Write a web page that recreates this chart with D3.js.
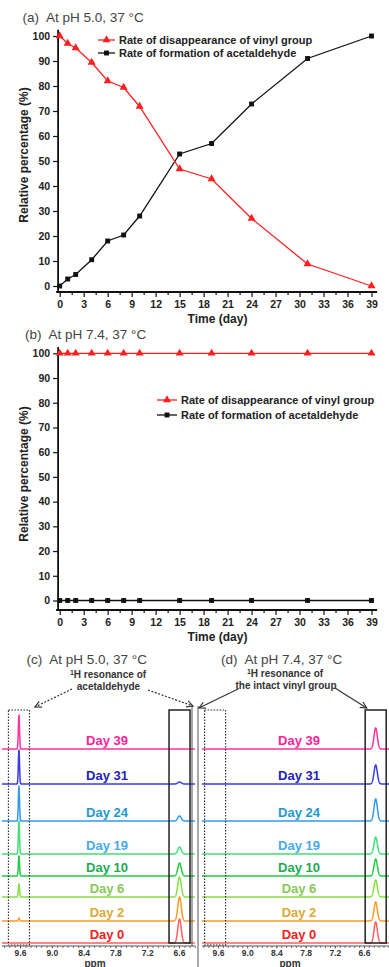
<!DOCTYPE html>
<html>
<head>
<meta charset="utf-8">
<script src="https://cdn.jsdelivr.net/npm/d3@7"></script>
<style>
  html, body { margin: 0; padding: 0; background: #fff; }
  svg { display: block; font-family: Arial, "Liberation Sans", sans-serif; }
  .title { font-size: 13.5px; fill: #444; }
  .axis text { font-size: 10.5px; font-weight: bold; fill: #222; font-family: Arial, "Liberation Sans", sans-serif; }
  .axis line { stroke: #111; stroke-width: 1.2; }
  .axis-label { font-size: 12px; font-weight: bold; fill: #222; }
  .legend text { font-size: 11px; font-weight: bold; fill: #222; }
  .nmr-axis text { font-size: 8.5px; font-weight: bold; fill: #333; font-family: Arial, "Liberation Sans", sans-serif; }
  .nmr-axis line { stroke: #555; stroke-width: 0.8; }
  .note { font-size: 10px; font-weight: bold; fill: #333; }
  .day-label { font-size: 13px; font-weight: bold; }
</style>
</head>
<body>
<svg id="fig" width="389" height="967"></svg>
<script>
// kinetics data (a) and (b)
const days = [0, 1, 2, 4, 6, 8, 10, 15, 19, 24, 31, 39];
const vinylPh50 = [100, 97, 95.2, 89.4, 82, 79.4, 71.8, 46.8, 42.8, 27, 8.8, 0];
const acetPh50 = [0, 2.8, 4.6, 10.5, 18, 20.4, 28, 52.8, 57, 72.8, 91, 100];
const vinylPh74 = [100, 100, 100, 100, 100, 100, 100, 100, 100, 100, 100, 100];
const acetPh74 = [0, 0, 0, 0, 0, 0, 0, 0, 0, 0, 0, 0];
const dayTicks = [0, 3, 6, 9, 12, 15, 18, 21, 24, 27, 30, 33, 36, 39];
const pctTicks = [0, 10, 20, 30, 40, 50, 60, 70, 80, 90, 100];
const seriesNames = ['Rate of disappearance of vinyl group', 'Rate of formation of acetaldehyde'];

// 1H NMR spectra, panels (c) and (d); peak heights in intensity units
const nmrDays = [39, 31, 24, 19, 10, 6, 2, 0];
const traceOffset = [194, 159, 122, 89, 67, 46, 22, 0];
const acetPeakC = [34, 34, 35, 33, 20, 13, 3, 0];
const vinylPeakC = [0, 2, 5, 7, 13, 20, 24, 24];
const acetPeakD = [0, 0, 0, 0, 0, 0, 0, 0];
const vinylPeakD = [21, 19, 22, 17, 17, 17, 19, 21];
const ppmTicks = [9.6, 9.0, 8.4, 7.8, 7.2, 6.6];

const traceColors = ['#ff3399', '#3a3aee', '#3399ee', '#44dd77', '#22cc44', '#88e044', '#ff9a22', '#ff6060'];
const labelColors = ['#ff2299', '#2222bb', '#2299cc', '#44aaee', '#22aa55', '#88c855', '#ddaa33', '#ee2222'];

const RED = '#ff1f1f';
const BLACK = '#111';

const svg = d3.select('#fig');

const defs = svg.append('defs');
defs.append('marker').attr('id', 'head').attr('viewBox', '-8 -5 10 10')
  .attr('refX', 0).attr('refY', 0).attr('markerWidth', 9).attr('markerHeight', 9)
  .attr('markerUnits', 'userSpaceOnUse').attr('orient', 'auto')
  .append('path').attr('d', 'M-7,-3.5 L0,0 L-7,3.5').attr('fill', 'none')
  .attr('stroke', '#333').attr('stroke-width', 1.3);

// panel title: letter, then a wider gap before the condition
function title(g, x, y, letter, text) {
  const t = g.append('text').attr('class', 'title').attr('x', x).attr('y', y);
  t.append('tspan').text(letter);
  t.append('tspan').attr('dx', 7).text(text);
}

function kineticsPanel(cfg) {
  const x = d3.scaleLinear().domain([0, 39]).range([59.7, 371.5]);
  const y = d3.scaleLinear().domain([0, 100]).range([cfg.y0, cfg.y100]);
  const g = svg.append('g');

  title(g, cfg.titleX, cfg.titleY, cfg.letter, cfg.title);

  const xa = g.append('g').attr('class', 'axis').attr('transform', `translate(0,${cfg.axisY})`)
    .call(d3.axisBottom(x).tickValues(dayTicks).tickSize(5).tickSizeOuter(0).tickPadding(4));
  xa.select('.domain').remove();
  const xm = g.append('g').attr('class', 'axis').attr('transform', `translate(0,${cfg.axisY})`)
    .call(d3.axisBottom(x).tickValues(dayTicks.slice(0, -1).map(d => d + 1.5)).tickSize(3).tickFormat(''));
  xm.select('.domain').remove();

  const ya = g.append('g').attr('class', 'axis').attr('transform', `translate(${x(-0.2)},0)`)
    .call(d3.axisLeft(y).tickValues(pctTicks).tickSize(5).tickSizeOuter(0).tickPadding(3));
  ya.select('.domain').remove();

  g.append('line').attr('x1', x(-0.45)).attr('x2', x(39.7))
    .attr('y1', cfg.axisY).attr('y2', cfg.axisY).attr('stroke', BLACK).attr('stroke-width', 1.8);
  g.append('line').attr('x1', x(-0.2)).attr('x2', x(-0.2))
    .attr('y1', cfg.axisY).attr('y2', y(102.5)).attr('stroke', BLACK).attr('stroke-width', 1.8);

  g.append('text').attr('class', 'axis-label').attr('text-anchor', 'middle')
    .attr('transform', `translate(${cfg.yLabelX},${cfg.yLabelY}) rotate(-90)`)
    .text('Relative percentage (%)');
  g.append('text').attr('class', 'axis-label').attr('text-anchor', 'middle')
    .attr('x', 217.5).attr('y', cfg.axisY + 31).text('Time (day)');

  const line = d3.line().x((d, i) => x(days[i])).y(d => y(d));
  const series = [
    { values: cfg.vinyl, color: RED, symbol: d3.symbolTriangle, size: 28 },
    { values: cfg.acet, color: BLACK, symbol: d3.symbolSquare, size: 24 }
  ];
  series.slice().reverse().forEach(s => {
    g.append('path').attr('d', line(s.values)).attr('fill', 'none')
      .attr('stroke', s.color).attr('stroke-width', 1.3);
    g.selectAll(null).data(s.values).join('path')
      .attr('transform', (d, i) => `translate(${x(days[i])},${y(d)})`)
      .attr('d', d3.symbol(s.symbol, s.size)).attr('fill', s.color);
  });

  const lg = g.append('g').attr('class', 'legend');
  series.forEach((s, i) => {
    const ly = cfg.legendY + i * cfg.legendGap;
    lg.append('line').attr('x1', cfg.legendX).attr('x2', cfg.legendX + cfg.legendLen)
      .attr('y1', ly).attr('y2', ly).attr('stroke', s.color).attr('stroke-width', 1.3);
    lg.append('path').attr('transform', `translate(${cfg.legendX + cfg.legendLen / 2},${ly})`)
      .attr('d', d3.symbol(s.symbol, s.size)).attr('fill', s.color);
    lg.append('text').attr('x', cfg.legendX + cfg.legendLen + 4).attr('y', ly).attr('dy', '0.36em')
      .text(seriesNames[i]);
  });
}

kineticsPanel({
  letter: '(a)', title: 'At pH 5.0, 37 °C', titleX: 22.5, titleY: 22,
  y0: 286, y100: 36, axisY: 292,
  yLabelX: 28, yLabelY: 155,
  vinyl: vinylPh50, acet: acetPh50,
  legendX: 98, legendLen: 17, legendY: 40, legendGap: 13
});

kineticsPanel({
  letter: '(b)', title: 'At pH 7.4, 37 °C', titleX: 25, titleY: 339,
  y0: 600.5, y100: 353.3, axisY: 610,
  yLabelX: 28, yLabelY: 474,
  vinyl: vinylPh74, acet: acetPh74,
  legendX: 157, legendLen: 20, legendY: 400, legendGap: 15
});

function nmrPanel(cfg) {
  const x = d3.scaleLinear().domain([9.6, 6.6]).range(cfg.xr);
  const y = d3.scaleLinear().domain([0, 200]).range([943, 743]);
  const g = svg.append('g');

  title(g, cfg.titleX, 664, cfg.letter, cfg.title);

  const ppmLeft = x.invert(cfg.left), ppmRight = x.invert(cfg.right);
  const grid = d3.range(ppmLeft, ppmRight, -0.003);
  const peak = (p, c, h, s) => h * Math.exp(-0.5 * ((p - c) / s) ** 2);

  nmrDays.forEach((day, i) => {
    const line = d3.line()
      .x(p => x(p))
      .y(p => y(traceOffset[i]
        + peak(p, cfg.acetPpm, cfg.acetPeak[i], 0.011)
        + peak(p, cfg.vinylPpm, cfg.vinylPeak[i], cfg.vinylWidth)));
    g.append('path').attr('d', line(grid)).attr('fill', 'none')
      .attr('stroke', traceColors[i]).attr('stroke-width', 1.5);
    g.append('text').attr('class', 'day-label').attr('text-anchor', 'middle')
      .attr('x', cfg.labelX).attr('y', y(traceOffset[i]) - 4)
      .attr('fill', labelColors[i]).text('Day ' + day);
  });

  // axis
  const ax = g.append('g').attr('class', 'nmr-axis').attr('transform', 'translate(0,946)')
    .call(d3.axisBottom(x).tickValues(ppmTicks).tickSize(2.5).tickPadding(1.5).tickFormat(d3.format('.1f')));
  ax.select('.domain').remove();
  const minor = d3.range(Math.floor(ppmLeft * 10) / 10, ppmRight, -0.1).filter(p => p <= ppmLeft);
  const am = g.append('g').attr('class', 'nmr-axis').attr('transform', 'translate(0,946)')
    .call(d3.axisBottom(x).tickValues(minor).tickSize(2).tickFormat(''));
  am.select('.domain').remove();
  g.append('line').attr('x1', cfg.left).attr('x2', cfg.right).attr('y1', 946).attr('y2', 946)
    .attr('stroke', '#555').attr('stroke-width', 1);
  g.append('text').attr('class', 'note').attr('text-anchor', 'middle')
    .attr('x', cfg.ppmX).attr('y', 966.5).text('ppm');

  // boxes around the two resonances
  const ax0 = x(cfg.acetPpm), vx0 = x(cfg.vinylPpm);
  g.append('rect').attr('x', ax0 - 10.5).attr('y', 710).attr('width', 21).attr('height', 235)
    .attr('fill', 'none').attr('stroke', '#333').attr('stroke-width', 1.2)
    .attr('stroke-dasharray', '1.6,1.4');
  g.append('rect').attr('x', vx0 - 10.5).attr('y', 710).attr('width', 21).attr('height', 233)
    .attr('fill', 'none').attr('stroke', '#222').attr('stroke-width', 1.5);

  g.append('line').attr('x1', cfg.frameX).attr('x2', cfg.frameX)
    .attr('y1', 706).attr('y2', cfg.frameBottom).attr('stroke', '#555').attr('stroke-width', 1);

  return { x, acetX: ax0, vinylX: vx0 };
}

const pc = nmrPanel({
  letter: '(c)', title: 'At pH 5.0, 37 °C', titleX: 26.5,
  xr: [20, 179], left: 2, right: 195,
  acetPpm: 9.62, vinylPpm: 6.59, vinylWidth: 0.032,
  acetPeak: acetPeakC, vinylPeak: vinylPeakC,
  labelX: 107, ppmX: 95, frameX: 192, frameBottom: 946
});
const pd = nmrPanel({
  letter: '(d)', title: 'At pH 7.4, 37 °C', titleX: 221,
  xr: [218, 364], left: 202, right: 389,
  acetPpm: 9.66, vinylPpm: 6.36, vinylWidth: 0.034,
  acetPeak: acetPeakD, vinylPeak: vinylPeakD,
  labelX: 299, ppmX: 290, frameX: 198, frameBottom: 967
});

// annotations
const notes = svg.append('g');
notes.append('text').attr('class', 'note').attr('text-anchor', 'middle').attr('x', 108).attr('y', 678)
  .html('<tspan font-size="7" dy="-3">1</tspan><tspan dy="3">H resonance of</tspan>');
notes.append('text').attr('class', 'note').attr('text-anchor', 'middle').attr('x', 108.5).attr('y', 689.5)
  .text('acetaldehyde');
notes.append('text').attr('class', 'note').attr('text-anchor', 'middle').attr('x', 285).attr('y', 677)
  .html('<tspan font-size="7" dy="-3">1</tspan><tspan dy="3">H resonance of</tspan>');
notes.append('text').attr('class', 'note').attr('text-anchor', 'middle').attr('x', 286).attr('y', 688.5)
  .text('the intact vinyl group');

const arrows = [
  { x1: 72, y1: 689, x2: pc.acetX + 16, y2: 707, dash: '2,1.6' },
  { x1: 148, y1: 690, x2: 193, y2: 706, dash: '2,1.6' },
  { x1: 238, y1: 689, x2: 199, y2: 708, dash: null },
  { x1: 335, y1: 688, x2: pd.vinylX - 9, y2: 708, dash: null }
];
arrows.forEach(a => {
  notes.append('line').attr('x1', a.x1).attr('y1', a.y1).attr('x2', a.x2).attr('y2', a.y2)
    .attr('stroke', '#333').attr('stroke-width', 1.2)
    .attr('stroke-dasharray', a.dash).attr('marker-end', 'url(#head)');
});
</script>
</body>
</html>
